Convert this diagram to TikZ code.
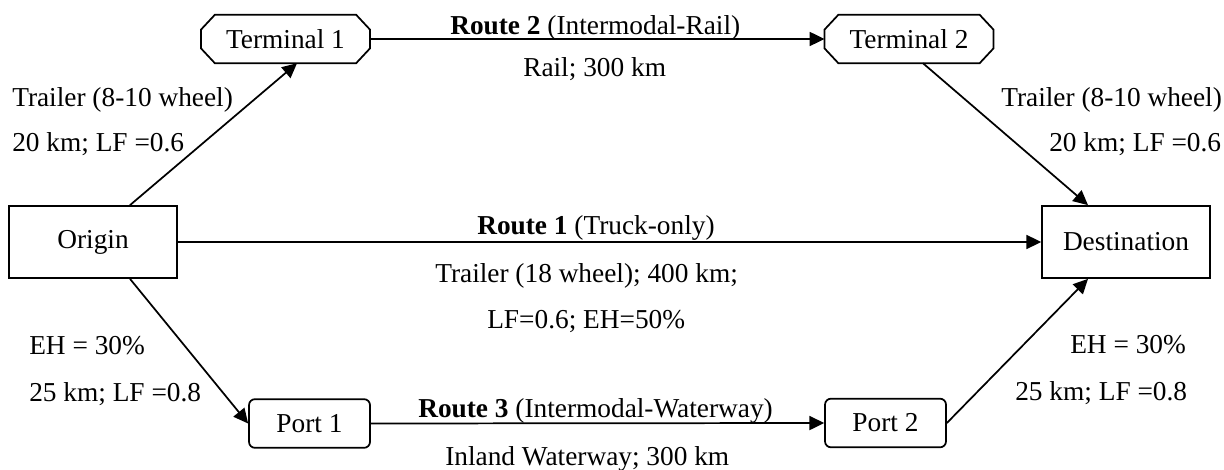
\documentclass[tikz,border=0pt]{standalone}
\usepackage{fontspec}
\setmainfont{Liberation Serif}
\usetikzlibrary{arrows.meta,calc}
\begin{document}
\begin{tikzpicture}[x=0.75pt,y=-0.75pt,
  font=\fontsize{20.5}{24}\selectfont,
  ln/.style={line width=1.3pt},
  arr/.style={ln,-{Triangle[length=11pt,width=10.5pt]}},
  rectbox/.style={draw,ln,minimum width=126pt,minimum height=54pt,inner sep=0pt},
  termbox/.style={minimum width=126.5pt,minimum height=36pt,inner sep=0pt},
  portbox/.style={draw,ln,rounded corners=4.5pt,minimum width=90.75pt,minimum height=36.5pt,inner sep=0pt},
  lbl/.style={anchor=base west,inner sep=0pt}]
\useasboundingbox (0,0) rectangle (1224,470);
% nodes
\node[rectbox] (origin) at (93,242) {Origin};
\node[rectbox] (dest) at (1126,242) {Destination};
\node[termbox] (t1) at (285.5,39) {Terminal 1};
\node[termbox] (t2) at (909,39) {Terminal 2};
\node[portbox] (p1) at (309.5,423.5) {Port 1};
\node[portbox] (p2) at (885.5,423) {Port 2};
% chamfered outlines of terminals
\foreach \n in {t1,t2}{
  \draw[ln] ($(\n.north west)+(14,0)$) -- ($(\n.north east)+(-14,0)$)
    -- ($(\n.north east)+(0,15)$) -- ($(\n.south east)+(0,-15)$)
    -- ($(\n.south east)+(-14,0)$) -- ($(\n.south west)+(14,0)$)
    -- ($(\n.south west)+(0,-15)$) -- ($(\n.north west)+(0,15)$) -- cycle;
}
% connectors
\draw[arr] ($(origin.north)+(37,0)$) -- ($(t1.south)+(11.5,0)$);
\draw[arr] (t1.east) -- (t2.west);
\draw[arr] ($(t2.south)+(14,0)$) -- ($(dest.north)+(-38,0)$);
\draw[arr] (origin.east) -- (dest.west);
\draw[arr] ($(origin.south)+(37,0)$) -- (p1.west);
\draw[arr] (p1.east) -- (p2.west);
\draw[arr] (p2.east) -- ($(dest.south)+(-38,0)$);
% labels
\node[lbl] (l1) at (450,35) {\textbf{Route 2} (Intermodal-Rail)};
\node[lbl] (l2) at (523,77) {Rail; 300 km};
\node[lbl] (l3) at (12,107) {Trailer (8-10 wheel)};
\node[lbl] (l4) at (12,152) {20 km; LF =0.6};
\node[lbl] (l5) at (1001,107) {Trailer (8-10 wheel)};
\node[lbl] (l6) at (1049,152) {20 km; LF =0.6};
\node[lbl] (l7) at (477,235) {\textbf{Route 1} (Truck-only)};
\node[lbl] (l8) at (435,282) {Trailer (18 wheel); 400 km;};
\node[lbl] (l9) at (487,328) {LF=0.6; EH=50\%};
\node[lbl] (l10) at (29,354) {EH = 30\%};
\node[lbl] (l11) at (29,401) {25 km; LF =0.8};
\node[lbl] (l12) at (1070,353) {EH = 30\%};
\node[lbl] (l13) at (1015,400) {25 km; LF =0.8};
\node[lbl] (l14) at (418,417) {\textbf{Route 3} (Intermodal-Waterway)};
\node[lbl] (l15) at (445,465) {Inland Waterway; 300 km};
\end{tikzpicture}
\end{document}
